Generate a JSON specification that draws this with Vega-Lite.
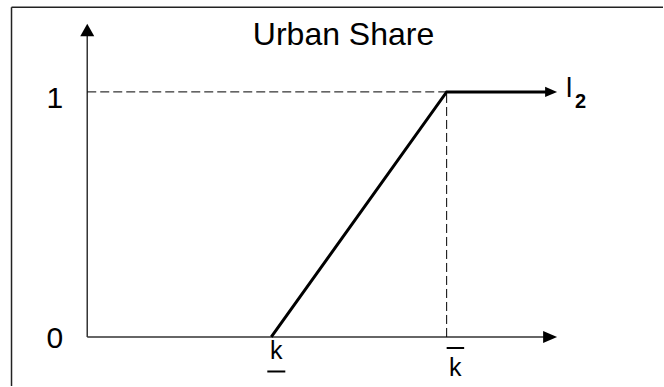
{
  "$schema": "https://vega.github.io/schema/vega-lite/v6.json",
  "width": 664,
  "height": 387,
  "autosize": {"type": "fit", "contains": "padding"},
  "padding": 0,
  "background": "white",
  "config": {"view": {"stroke": null}},
  "encoding": {
    "x": {"field": "x", "type": "quantitative", "scale": {"domain": [-0.5, 3.3], "nice": false, "zero": false}, "axis": null},
    "y": {"field": "y", "type": "quantitative", "scale": {"domain": [-0.2, 1.375], "nice": false, "zero": false}, "axis": null}
  },
  "layer": [
    {
      "data": {"values": [
        {"x": -0.434, "x2": 3.3, "y": 1.345, "y2": 1.345},
        {"x": -0.434, "x2": -0.434, "y": -0.2, "y2": 1.345}
      ]},
      "mark": {"type": "rule", "color": "#222222", "strokeWidth": 1.5},
      "encoding": {"x2": {"field": "x2"}, "y2": {"field": "y2"}}
    },
    {
      "data": {"values": [
        {"x": 0, "x2": 2.65, "y": 0, "y2": 0},
        {"x": 0, "x2": 0, "y": 0, "y2": 1.235}
      ]},
      "mark": {"type": "rule", "color": "#333333", "strokeWidth": 1.5},
      "encoding": {"x2": {"field": "x2"}, "y2": {"field": "y2"}}
    },
    {
      "data": {"values": [
        {"x": 2.693, "y": 0, "dir": "right"},
        {"x": 0, "y": 1.278, "dir": "up"}
      ]},
      "mark": {"type": "point", "filled": true, "color": "black", "opacity": 1, "size": 196, "strokeWidth": 0},
      "encoding": {
        "shape": {"field": "dir", "type": "nominal", "scale": {"domain": ["right", "up"], "range": ["M-2,-0.85L0,0L-2,0.85Z", "M-1,1.8L0,0L1,1.8Z"]}, "legend": null}
      }
    },
    {
      "data": {"values": [
        {"x": 0, "x2": 2.06, "y": 1, "y2": 1},
        {"x": 2.06, "x2": 2.06, "y": 0, "y2": 1}
      ]},
      "mark": {"type": "rule", "color": "black", "strokeWidth": 1, "strokeDash": [9, 4]},
      "encoding": {"x2": {"field": "x2"}, "y2": {"field": "y2"}}
    },
    {
      "data": {"values": [
        {"i": 0, "x": 1.055, "y": 0},
        {"i": 1, "x": 2.06, "y": 1},
        {"i": 2, "x": 2.655, "y": 1}
      ]},
      "mark": {"type": "line", "color": "black", "strokeWidth": 3, "strokeJoin": "miter", "strokeCap": "butt"},
      "encoding": {"order": {"field": "i", "type": "quantitative"}}
    },
    {
      "data": {"values": [{"x": 2.693, "y": 1, "dir": "stealth"}]},
      "mark": {"type": "point", "filled": true, "color": "black", "opacity": 1, "size": 144, "strokeWidth": 0},
      "encoding": {
        "shape": {"field": "dir", "type": "nominal", "scale": {"domain": ["stealth"], "range": ["M0,0L-2,-1L-1.2,0L-2,1Z"]}, "legend": null}
      }
    },
    {
      "data": {"values": [{"x": 1.469, "y": 1.192, "label": "Urban Share"}]},
      "mark": {"type": "text", "align": "center", "baseline": "alphabetic", "font": "Liberation Sans", "fontSize": 32, "color": "black"},
      "encoding": {"text": {"field": "label"}}
    },
    {
      "data": {"values": [{"x": 0, "y": 0, "label": "0"}]},
      "mark": {"type": "text", "align": "right", "baseline": "alphabetic", "font": "Liberation Sans", "fontSize": 30, "color": "black", "dx": -24, "dy": 11},
      "encoding": {"text": {"field": "label"}}
    },
    {
      "data": {"values": [{"x": 0, "y": 1, "label": "1"}]},
      "mark": {"type": "text", "align": "right", "baseline": "alphabetic", "font": "Liberation Sans", "fontSize": 30, "color": "black", "dx": -24, "dy": 16},
      "encoding": {"text": {"field": "label"}}
    },
    {
      "data": {"values": [{"x": 1.055, "y": 0, "label": "k"}]},
      "mark": {"type": "text", "align": "center", "baseline": "alphabetic", "font": "Liberation Sans", "fontSize": 25, "color": "black", "dx": 5, "dy": 22},
      "encoding": {"text": {"field": "label"}}
    },
    {
      "data": {"values": [{"x": 1.055, "x2": 1.055, "y": 0, "y2": 0}]},
      "mark": {"type": "rule", "color": "black", "strokeWidth": 2, "xOffset": -4, "x2Offset": 14, "yOffset": 34.5, "y2Offset": 34.5},
      "encoding": {"x2": {"field": "x2"}, "y2": {"field": "y2"}}
    },
    {
      "data": {"values": [{"x": 2.06, "y": 0, "label": "k"}]},
      "mark": {"type": "text", "align": "center", "baseline": "alphabetic", "font": "Liberation Sans", "fontSize": 25, "color": "black", "dx": 8.5, "dy": 39},
      "encoding": {"text": {"field": "label"}}
    },
    {
      "data": {"values": [{"x": 2.06, "x2": 2.06, "y": 0, "y2": 0}]},
      "mark": {"type": "rule", "color": "black", "strokeWidth": 2, "xOffset": 0, "x2Offset": 17.5, "yOffset": 11, "y2Offset": 11},
      "encoding": {"x2": {"field": "x2"}, "y2": {"field": "y2"}}
    },
    {
      "data": {"values": [{"x": 2.693, "y": 1, "label": "l"}]},
      "mark": {"type": "text", "align": "left", "baseline": "alphabetic", "font": "Liberation Sans", "fontSize": 28, "color": "black", "dx": 9, "dy": 5},
      "encoding": {"text": {"field": "label"}}
    },
    {
      "data": {"values": [{"x": 2.693, "y": 1, "label": "2"}]},
      "mark": {"type": "text", "align": "left", "baseline": "alphabetic", "font": "Liberation Sans", "fontSize": 20, "fontWeight": "bold", "color": "black", "dx": 18, "dy": 16},
      "encoding": {"text": {"field": "label"}}
    }
  ]
}
